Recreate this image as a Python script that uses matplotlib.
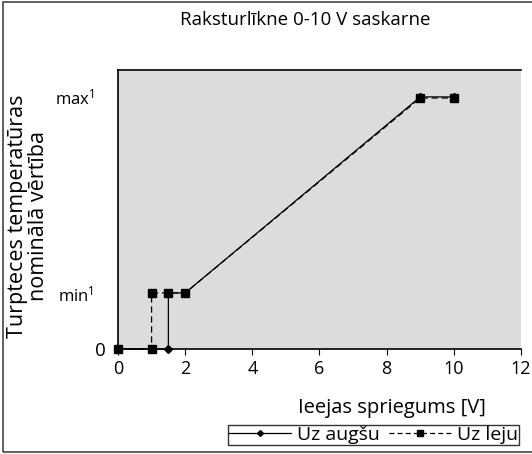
import matplotlib
matplotlib.use("Agg")
import matplotlib.pyplot as plt
import matplotlib.transforms as mtransforms
from matplotlib.patches import Rectangle
from matplotlib.lines import Line2D

plt.rcParams.update({
    'font.family': ['Open Sans', 'DejaVu Sans'],
    'mathtext.default': 'regular',
})

# voltage [V] vs. set value (0, min=1, max=4.5)
volts_up = [0, 1.5, 1.5, 2, 9, 10]
level_up = [0, 0, 1, 1, 4.5, 4.5]
volts_down = [0, 1, 1, 1.5, 2, 9, 10]
level_down = [0, 0, 1, 1, 1, 4.48, 4.48]

x_ticks = [0, 2, 4, 6, 8, 10, 12]
y_ticks = [0, 1, 4.5]
y_ticklabels = ['0', 'min$^1$', 'max$^1$']

fig = plt.figure(figsize=(5.32, 4.54), dpi=100)
fig.patches.append(Rectangle((0.005, 0.004), 1.1, 0.992, transform=fig.transFigure,
                             fill=False, edgecolor='#444444', lw=1.2))

ax = fig.add_axes([0.2218, 0.2313, 0.7575, 0.6145])
ax.set_facecolor('#dcdcdc')
ax.plot(volts_up, level_up, '-', color='black', lw=0.9, marker='D', ms=4.5, clip_on=False, zorder=3)
ax.plot(volts_down, level_down, '--', color='black', lw=0.9, marker='s', ms=5.5,
        dashes=(5, 3), clip_on=False, zorder=3)

ax.set_xlim(0, 12)
ax.set_ylim(0, 4.98)
ax.set_xticks(x_ticks)
ax.set_xticklabels([str(t) for t in x_ticks], fontsize=13)
ax.set_yticks(y_ticks)
ax.set_yticklabels(y_ticklabels, fontsize=12)
ax.tick_params(axis='y', length=0, pad=17)
ax.tick_params(axis='x', direction='out', length=4, pad=4)
# the "0" sits closer to the axis and a bit larger than min/max
zero_lbl = ax.get_yticklabels()[0]
zero_lbl.set_fontsize(13.5)
zero_lbl.set_transform(zero_lbl.get_transform() +
                       mtransforms.ScaledTranslation(8 / 72, 0, fig.dpi_scale_trans))
ax.spines['right'].set_visible(False)
for s in ['left', 'top', 'bottom']:
    ax.spines[s].set_linewidth(1.2)

fig.text(0.573, 0.956, 'Raksturlīkne 0-10 V saskarne', ha='center', va='center', fontsize=13.5)
fig.text(0.052, 0.524, 'Turpteces temperatūras\nnominālā vērtība', rotation=90,
         ha='center', va='center', fontsize=15.5, linespacing=1.0)
fig.text(0.737, 0.101, 'Ieejas spriegums [V]', ha='center', va='center', fontsize=14.5)

handles = [Line2D([], [], color='black', lw=0.9, marker='D', ms=3),
           Line2D([], [], color='black', lw=0.9, ls='--', marker='s', ms=5, dashes=(4, 2.5))]
leg = fig.legend(handles, ['Uz augšu', 'Uz leju'], loc='center', bbox_to_anchor=(0.702, 0.042),
                 ncol=2, frameon=True, fancybox=False, fontsize=14, handlelength=3.2,
                 columnspacing=0.5, handletextpad=0.3, borderpad=0.05, borderaxespad=0)
leg.get_frame().set_edgecolor('black')
leg.get_frame().set_linewidth(1)

fig.savefig('out.png', dpi=100)
